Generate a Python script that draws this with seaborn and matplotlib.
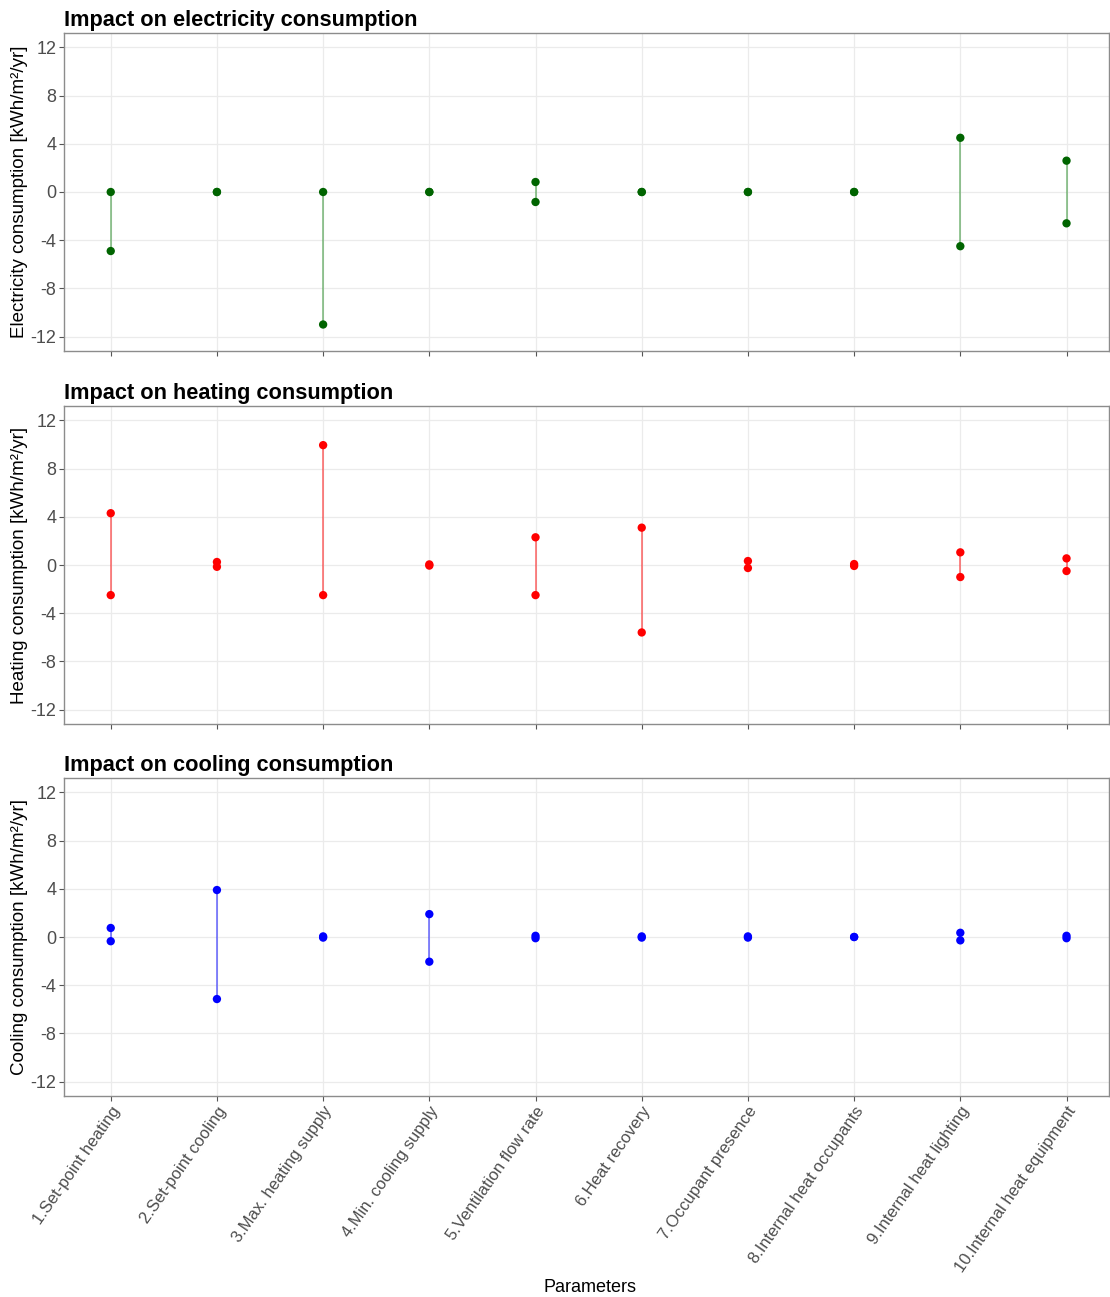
import matplotlib
matplotlib.use("Agg")
import matplotlib.pyplot as plt
import numpy as np
import pandas as pd
import seaborn as sns

PARAMS = [
    "1.Set-point heating", "2.Set-point cooling", "3.Max. heating supply",
    "4.Min. cooling supply", "5.Ventilation flow rate", "6.Heat recovery",
    "7.Occupant presence", "8.Internal heat occupants",
    "9.Internal heat lighting", "10.Internal heat equipment",
]

# upper / lower impact per parameter [kWh/m2/yr]
elec_high = [0.0, 0.0, 0.0, 0.0, 0.83, 0.0, 0.0, 0.0, 4.5, 2.6]
elec_low = [-4.9, 0.0, -11.0, 0.0, -0.83, 0.0, 0.0, 0.0, -4.5, -2.6]
heat_high = [4.3, 0.25, 9.95, 0.05, 2.3, 3.1, 0.33, 0.08, 1.05, 0.55]
heat_low = [-2.5, -0.15, -2.5, -0.05, -2.5, -5.6, -0.25, -0.08, -1.0, -0.5]
cool_high = [0.75, 3.9, 0.05, 1.9, 0.1, 0.05, 0.05, 0.0, 0.35, 0.1]
cool_low = [-0.35, -5.15, -0.05, -2.05, -0.1, -0.05, -0.05, 0.0, -0.28, -0.1]

PANELS = [
    ("Impact on electricity consumption", "Electricity consumption [kWh/m²/yr]",
     elec_high, elec_low, "#006400", "#228B22"),
    ("Impact on heating consumption", "Heating consumption [kWh/m²/yr]",
     heat_high, heat_low, "#FF0000", "#FF0000"),
    ("Impact on cooling consumption", "Cooling consumption [kWh/m²/yr]",
     cool_high, cool_low, "#0000FF", "#0000FF"),
]

sns.set_theme(style="white")
plt.rcParams["font.family"] = ["Liberation Sans", "DejaVu Sans"]
plt.rcParams["axes.unicode_minus"] = False

W, H = 1110, 1297
fig = plt.figure(figsize=(W / 100, H / 100), dpi=100)
tops = [33, 406, 778]
ax_h = 318
left, right = 64, 1109

for i, (title, ylabel, hi, lo, pcol, lcol) in enumerate(PANELS):
    top = tops[i]
    ax = fig.add_axes([left / W, 1 - (top + ax_h) / H, (right - left) / W, ax_h / H])
    df = pd.DataFrame({
        "param": PARAMS * 2,
        "pos": list(range(len(PARAMS))) * 2,
        "value": hi + lo,
    })
    sns.lineplot(data=df, x="pos", y="value", units="param", estimator=None,
                 color=lcol, alpha=0.6, linewidth=1.1, ax=ax, zorder=2)
    sns.scatterplot(data=df, x="pos", y="value", color=pcol, s=36,
                    edgecolor="none", ax=ax, zorder=3)

    ax.set_xlim(-0.44, len(PARAMS) - 0.6)
    ax.set_ylim(-13.2, 13.2)
    ax.set_yticks([-12, -8, -4, 0, 4, 8, 12])
    ax.set_xticks(range(len(PARAMS)))
    ax.grid(True, color="#EBEBEB", linewidth=0.9)
    ax.set_axisbelow(True)
    for sp in ax.spines.values():
        sp.set_color("#8C8C8C")
        sp.set_linewidth(1.0)
    ax.tick_params(axis="both", length=3.5, width=0.8, color="#555555",
                   labelcolor="#4D4D4D", labelsize=13, pad=2,
                   bottom=True, left=True)
    ax.set_ylabel(ylabel, fontsize=13.5, color="black")
    ax.yaxis.set_label_coords(-36 / (right - left), 0.5)
    ax.set_title(title, loc="left", fontsize=15.7, fontweight="bold",
                 color="black", pad=5)
    ax.set_xlabel("")
    if i < 2:
        ax.set_xticklabels([])
    else:
        ax.set_xticklabels(PARAMS, rotation=55, ha="right",
                           rotation_mode="anchor", fontsize=12)

fig.text(590 / W, 1 - 1287 / H, "Parameters", ha="center", va="center",
         fontsize=13, color="black")

fig.savefig("out.png", dpi=100)
